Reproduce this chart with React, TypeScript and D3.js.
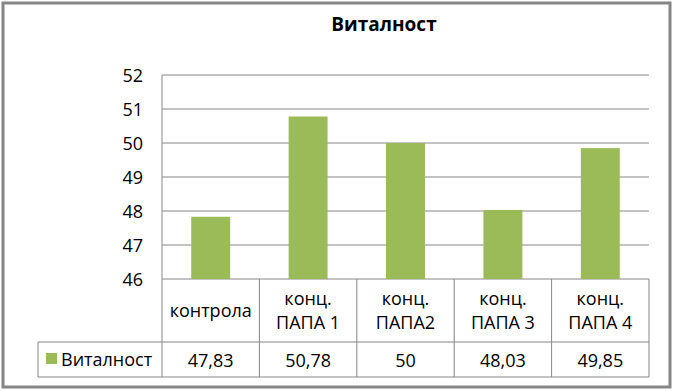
import React from 'react';
import * as d3 from 'd3';

const title = 'Виталност';
const seriesName = 'Виталност';
const categories = ['контрола', 'конц. ПАПА 1', 'конц. ПАПА2', 'конц. ПАПА 3', 'конц. ПАПА 4'];
const categoryLines = [['контрола'], ['конц.', 'ПАПА 1'], ['конц.', 'ПАПА2'], ['конц.', 'ПАПА 3'], ['конц.', 'ПАПА 4']];
const values = [47.83, 50.78, 50, 48.03, 49.85];
const valueLabels = ['47,83', '50,78', '50', '48,03', '49,85'];
const yTicks = [46, 47, 48, 49, 50, 51, 52];

const W = 674;
const H = 391;
const FONT = '"Open Sans", "Noto Sans", sans-serif';

export default function App() {
  const plot = { left: 162, right: 649, top: 75, bottom: 279 };
  const headerBottom = 342;
  const tableBottom = 377;
  const legendLeft = 38;

  const x = d3.scaleBand<string>()
    .domain(categories)
    .range([plot.left, plot.right])
    .paddingInner(0.6)
    .paddingOuter(0.3);

  const y = d3.scaleLinear().domain([46, 52]).range([plot.bottom, plot.top]);

  const step = x.step();
  const cellLeft = (i: number) => plot.left + i * step;
  const grid = '#868686';

  return (
    <svg width={W} height={H} style={{ position: 'absolute', left: 0, top: 0 }} fontFamily={FONT}>
      <rect x={0} y={0} width={W} height={H} fill="#fff" />
      {/* outer frame */}
      <rect x={3} y={3} width={667} height={384} fill="none" stroke={grid} strokeWidth={3} />

      <text x={384} y={31} textAnchor="middle" fontSize={19} fontWeight="bold" fill="#000">{title}</text>

      {/* gridlines */}
      {yTicks.map(t => (
        <line key={t} x1={plot.left} x2={plot.right} y1={y(t)} y2={y(t)} stroke={grid} strokeWidth={1} />
      ))}
      {yTicks.map(t => (
        <text key={'l' + t} x={143} y={y(t) + 6.5} textAnchor="end" fontSize={18} fill="#000">{t}</text>
      ))}

      {/* bars */}
      {values.map((v, i) => (
        <rect key={i} x={x(categories[i])} y={y(v)} width={x.bandwidth()} height={y(46) - y(v)} fill="#9BBB59" />
      ))}

      {/* data table */}
      <line x1={plot.left} x2={plot.left} y1={plot.top} y2={tableBottom} stroke={grid} />
      {categories.map((c, i) => (
        <line key={'v' + i} x1={cellLeft(i + 1)} x2={cellLeft(i + 1)} y1={plot.bottom} y2={tableBottom} stroke={grid} />
      ))}
      <line x1={legendLeft} x2={plot.right} y1={headerBottom} y2={headerBottom} stroke={grid} />
      <line x1={legendLeft} x2={plot.right} y1={tableBottom} y2={tableBottom} stroke={grid} />
      <line x1={legendLeft} x2={legendLeft} y1={headerBottom} y2={tableBottom} stroke={grid} />

      {categoryLines.map((lines, i) => {
        const cx = cellLeft(i) + step / 2;
        const mid = (plot.bottom + headerBottom) / 2;
        const lh = 24;
        const start = mid - ((lines.length - 1) * lh) / 2 + 6.5;
        return (
          <text key={'c' + i} textAnchor="middle" fontSize={18} fill="#000">
            {lines.map((ln, j) => (
              <tspan key={j} x={cx} y={start + j * lh}>{ln}</tspan>
            ))}
          </text>
        );
      })}

      {valueLabels.map((v, i) => (
        <text key={'d' + i} x={cellLeft(i) + step / 2} y={366.5} textAnchor="middle" fontSize={18} fill="#000">{v}</text>
      ))}

      {/* legend key */}
      <rect x={46} y={353} width={11} height={11} fill="#9BBB59" />
      <text x={61} y={366} fontSize={18} fill="#000">{seriesName}</text>
    </svg>
  );
}
